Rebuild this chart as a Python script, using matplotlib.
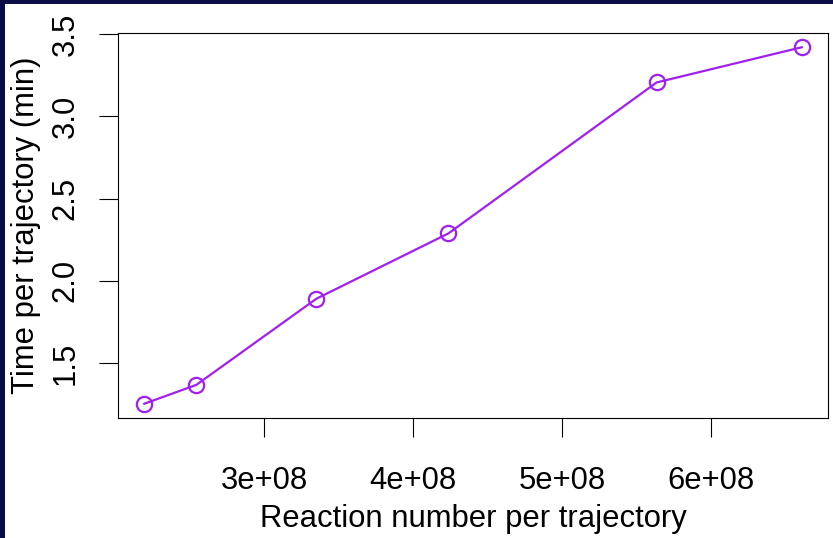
import matplotlib
matplotlib.use("Agg")
import matplotlib.pyplot as plt
from matplotlib.patches import Rectangle

reactions = [2.193e8, 2.543e8, 3.35e8, 4.237e8, 5.636e8, 6.611e8]
times = [1.252, 1.367, 1.891, 2.288, 3.206, 3.42]
xticks = [3e8, 4e8, 5e8, 6e8]
xtick_labels = ["3e+08", "4e+08", "5e+08", "6e+08"]
yticks = [1.5, 2.0, 2.5, 3.0, 3.5]
ytick_labels = ["1.5", "2.0", "2.5", "3.0", "3.5"]

plt.rcParams['font.family'] = ['Liberation Sans', 'DejaVu Sans']

fig = plt.figure(figsize=(8.33, 5.38), dpi=100)
fig.patch.set_facecolor("white")
# dark frame strips (top and left)
fig.patches.append(Rectangle((0, 1 - 4/538), 1, 4/538, transform=fig.transFigure,
                             facecolor="#0b0b45", edgecolor="none", zorder=0))
fig.patches.append(Rectangle((0, 0), 5/833, 1, transform=fig.transFigure,
                             facecolor="#0b0b45", edgecolor="none", zorder=0))

ax = fig.add_axes([118/833, 1 - 418/538, (828 - 118)/833, (418 - 33)/538])
ax.plot(reactions, times, color="#A020F0", lw=1.6, marker="o", ms=11,
        mfc="none", mec="#A020F0", mew=1.6)

xr = max(reactions) - min(reactions)
yr = max(times) - min(times)
ax.set_xlim(min(reactions) - 0.04 * xr, max(reactions) + 0.04 * xr)
ax.set_ylim(min(times) - 0.04 * yr, max(times) + 0.04 * yr)

ax.set_xticks(xticks)
ax.set_xticklabels(xtick_labels)
ax.set_yticks(yticks)
ax.set_yticklabels(ytick_labels, rotation=90, va="center")
ax.tick_params(axis="both", length=13.7, width=0.8, color="black",
               labelsize=22.3)
ax.tick_params(axis="x", pad=21)
ax.tick_params(axis="y", pad=13)
for s in ax.spines.values():
    s.set_linewidth(0.8)
    s.set_color("black")

ax.set_xlabel("Reaction number per trajectory", fontsize=22.3, labelpad=5.8)
ax.set_ylabel("Time per trajectory (min)", fontsize=22.3, labelpad=7)

fig.savefig("out.png", dpi=100, facecolor=fig.get_facecolor())
